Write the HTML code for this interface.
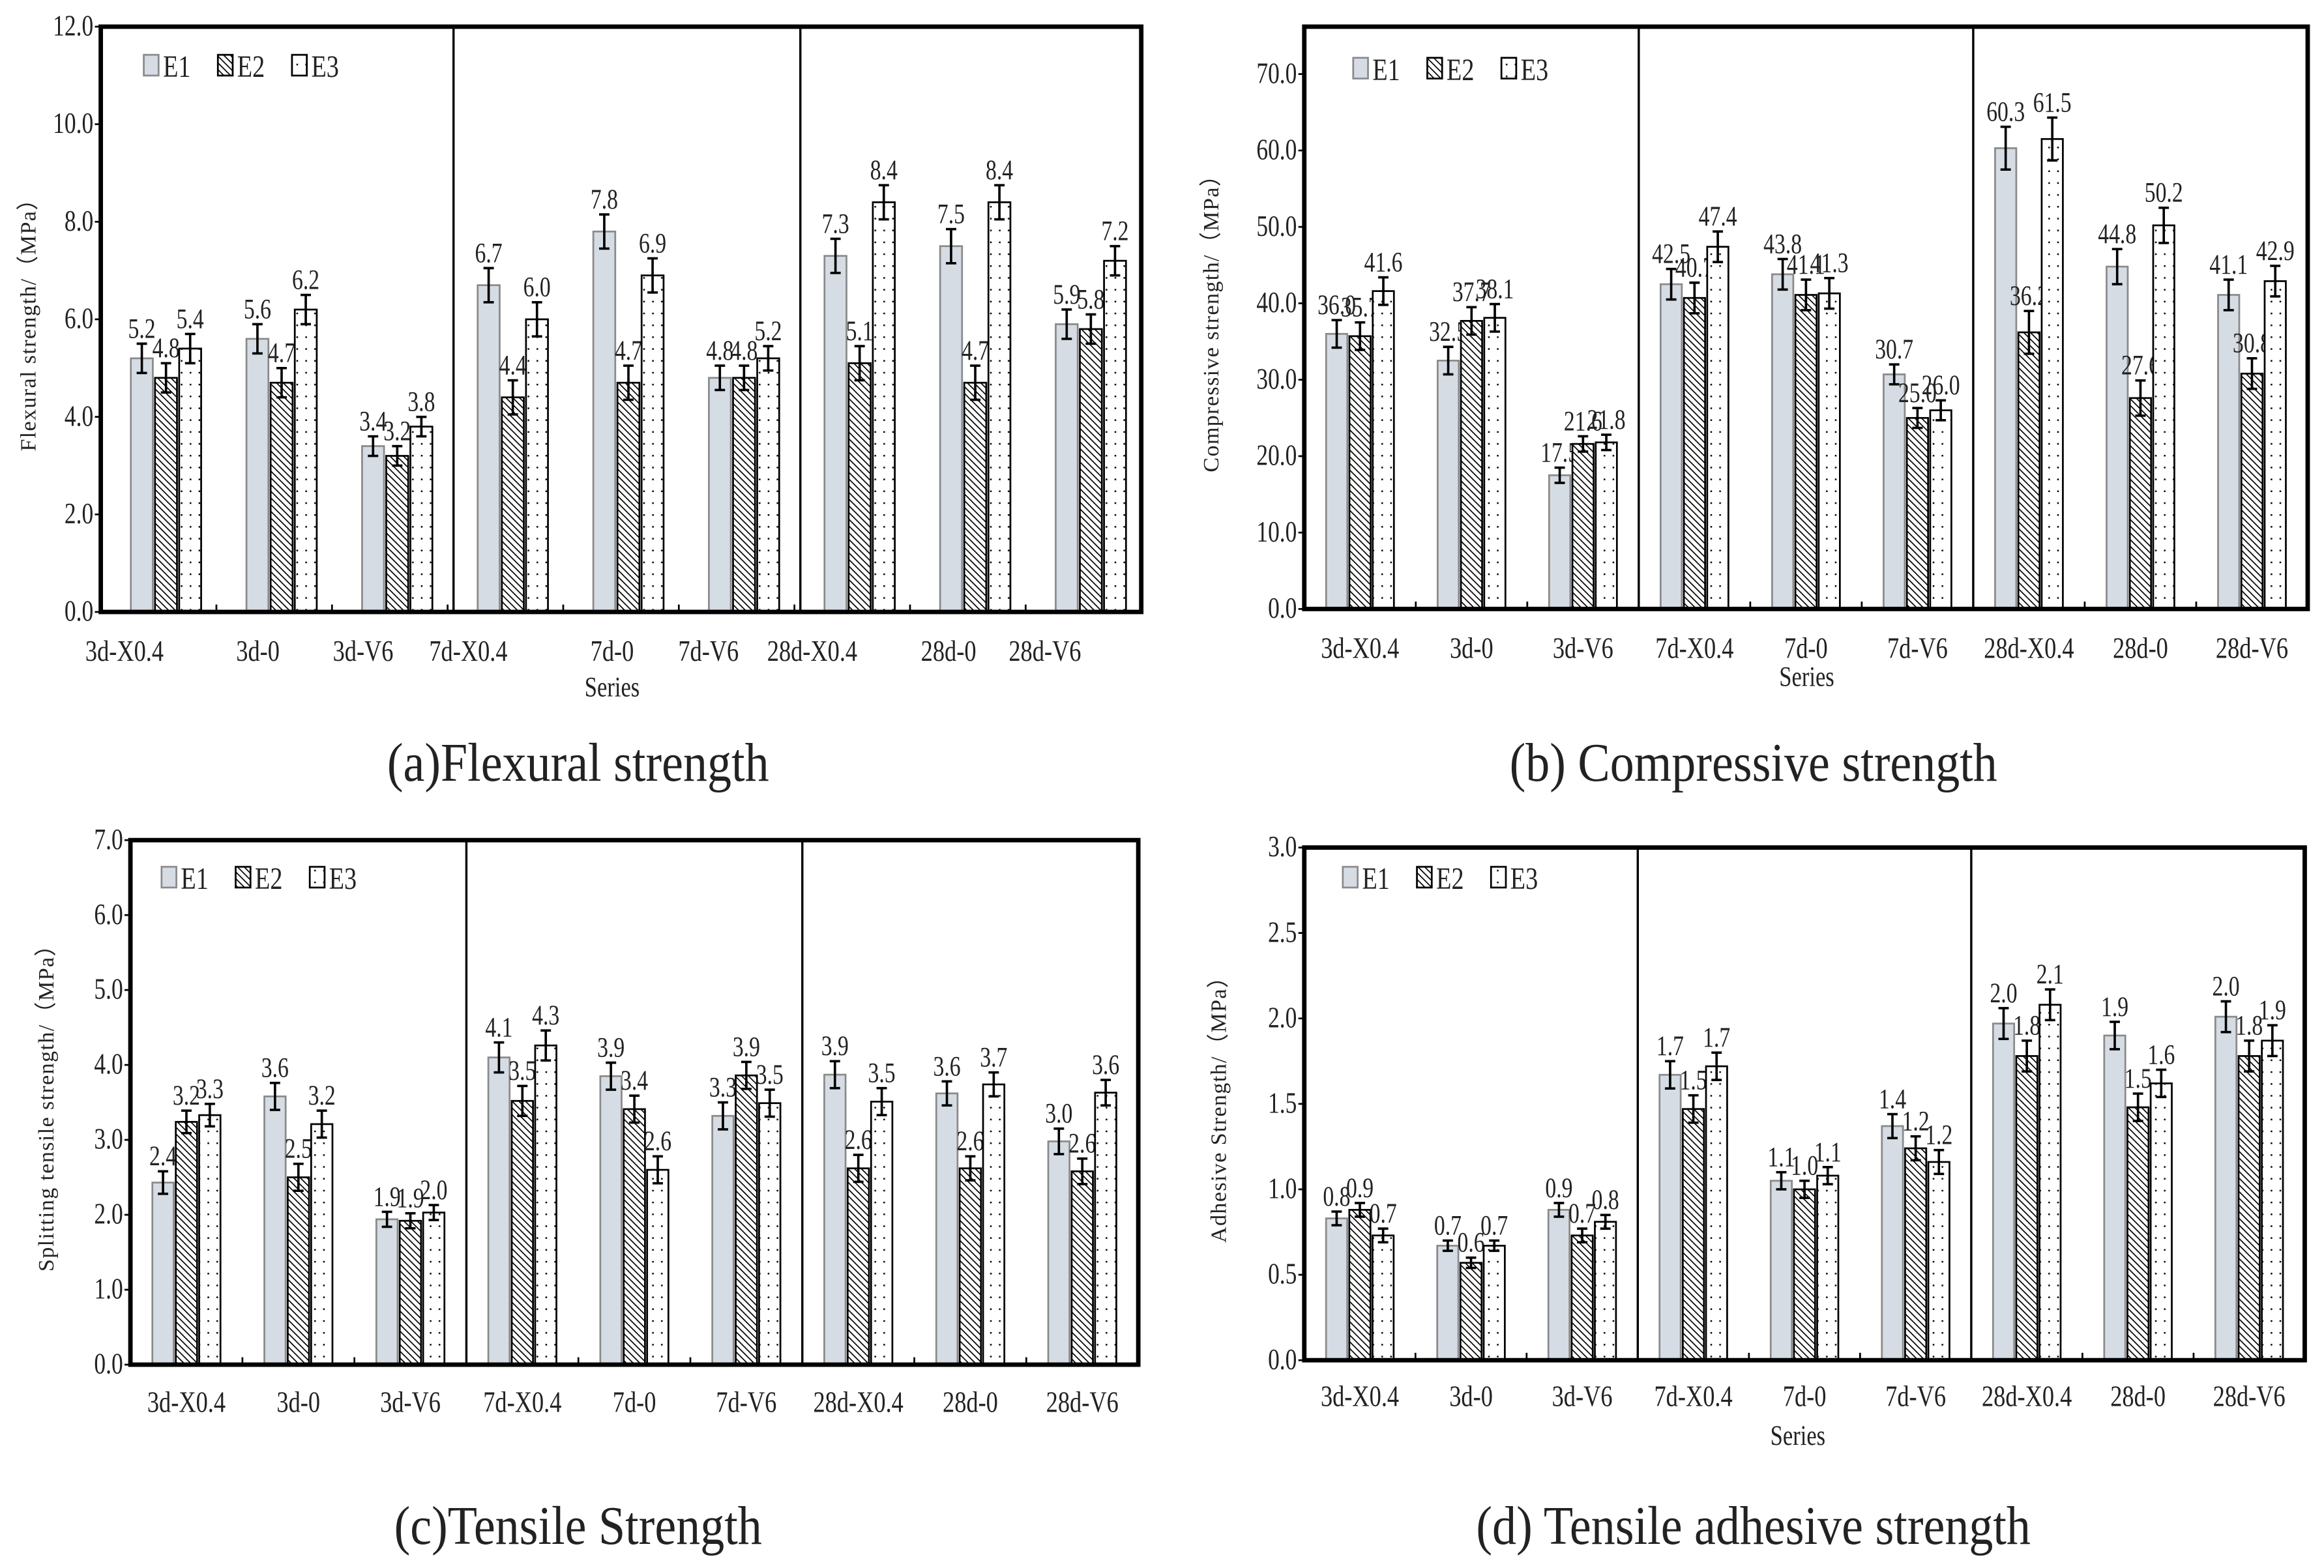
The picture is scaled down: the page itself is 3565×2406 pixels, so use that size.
<!DOCTYPE html>
<html><head><meta charset="utf-8"><style>
html,body{margin:0;padding:0;background:#fff;}
svg{display:block;font-family:"Liberation Serif",serif;}
</style></head><body>
<svg id="fig" width="3565" height="2406" viewBox="0 0 3565 2406" xmlns="http://www.w3.org/2000/svg">
<defs>
<pattern id="hatch" patternUnits="userSpaceOnUse" width="3.2" height="3.2" patternTransform="rotate(-45)">
<rect width="3.2" height="3.2" fill="#fff"/><line x1="0" y1="0" x2="0" y2="3.2" stroke="#000" stroke-width="1.5"/></pattern>
<pattern id="dots" patternUnits="userSpaceOnUse" width="6" height="8">
<rect width="6" height="8" fill="#fff"/><rect x="2" y="3" width="1.1" height="1.1" fill="#000"/></pattern>
</defs>
<g id="root" transform="scale(2.2736)"></g>
</svg>
<script>
const categories = ["3d-X0.4","3d-0","3d-V6","7d-X0.4","7d-0","7d-V6","28d-X0.4","28d-0","28d-V6"];
const seriesNames = ["E1","E2","E3"];
// (a) Flexural
const flexE1 = [5.2,5.6,3.4,6.7,7.8,4.8,7.3,7.5,5.9];
const flexE2 = [4.8,4.7,3.2,4.4,4.7,4.8,5.1,4.7,5.8];
const flexE3 = [5.4,6.2,3.8,6.0,6.9,5.2,8.4,8.4,7.2];
const flexErr = [0.3,0.3,0.2,0.35,0.35,0.25,0.35,0.35,0.3];
const flexTicks = [0,2,4,6,8,10,12];
// (b) Compressive
const compE1 = [36.0,32.5,17.5,42.5,43.8,30.7,60.3,44.8,41.1];
const compE2 = [35.7,37.7,21.6,40.7,41.1,25.0,36.2,27.6,30.8];
const compE3 = [41.6,38.1,21.8,47.4,41.3,26.0,61.5,50.2,42.9];
const compErr = [1.8,1.8,1.0,2.0,2.0,1.3,2.8,2.3,2.0];
const compTicks = [0,10,20,30,40,50,60,70];
// (c) Tensile
const tensE1 = [2.43,3.58,1.94,4.1,3.85,3.32,3.87,3.62,2.98];
const tensE2 = [3.24,2.5,1.92,3.52,3.41,3.86,2.62,2.62,2.58];
const tensE3 = [3.33,3.21,2.03,4.26,2.6,3.49,3.51,3.74,3.63];
const tensErr = [0.15,0.18,0.1,0.2,0.18,0.18,0.18,0.16,0.17];
const tensTicks = [0,1,2,3,4,5,6,7];
// (d) Adhesive
const adhE1 = [0.83,0.67,0.88,1.67,1.05,1.37,1.97,1.90,2.01];
const adhE2 = [0.88,0.57,0.73,1.47,1.00,1.24,1.78,1.48,1.78];
const adhE3 = [0.73,0.67,0.81,1.72,1.08,1.16,2.08,1.62,1.87];
const adhErr = [0.04,0.03,0.04,0.08,0.05,0.07,0.09,0.08,0.09];
const adhTicks = [0,0.5,1.0,1.5,2.0,2.5,3.0];

const NS="http://www.w3.org/2000/svg";
const root=document.getElementById('root');
function mk(tag,attrs,parent){const e=document.createElementNS(NS,tag);for(const k in attrs)e.setAttribute(k,attrs[k]);(parent||root).appendChild(e);return e;}
function txt(x,y,s,size,anchor,parent,sx){const t=mk('text',{transform:`translate(${x},${y}) scale(${sx||0.85},1)`,'font-size':size,'text-anchor':anchor||'middle',fill:'#222'},parent);t.textContent=s;return t;}

function chart(cfg){
  const g=mk('g',{});
  
  
  const {L,R,T,B,max}=cfg;
  const yS=v=>B-(v/max)*(B-T);
  const cw=(R-L)/categories.length;
  const xC=i=>L+cw*(i+0.5);
  cfg.ticks.forEach(v=>{
    const y=yS(v);
    const l=mk('line',{x1:L-4,x2:L,y1:y,y2:y,stroke:'#000','stroke-width':1.2},g);
    
    
    const t=txt(L-5,y+6,v.toFixed(1),20,'end',g,0.78);
    
    
  });
  const fills=['#d6dce4','url(#hatch)','url(#dots)'];
  const strokes=['#8a8a8a','#000','#000'];
  const bw=cw*0.19;
  cfg.series.forEach((arr,s)=>{
    arr.forEach((v,i)=>{
      const cx=xC(i)+cfg.shift+(s-1)*bw*1.1;
      const y=yS(v);
      const r=mk('rect',{x:cx-bw/2,y:y,width:bw,height:B-y,fill:fills[s],stroke:strokes[s],'stroke-width':1.2},g);
      
      
      const e=cfg.err[i];
      const eb=mk('path',{d:`M${cx},${yS(v+e)}V${yS(v-e)}M${cx-3.5},${yS(v+e)}H${cx+3.5}M${cx-3.5},${yS(v-e)}H${cx+3.5}`,stroke:'#000','stroke-width':1.6,fill:'none'},g);
      
      
      const t=txt(cx,yS(v+e)-4,v.toFixed(1),19,'middle',g,0.78);
      
      
    });
  });
  for(let i=1;i<categories.length;i++){
    const x=L+cw*i;
    mk('line',{x1:x,x2:x,y1:B,y2:B-5,stroke:'#000','stroke-width':1.2},g);
  }
  [3,6].forEach(i=>{const x=L+cw*i+cfg.divShift;const d=mk('line',{x1:x,x2:x,y1:T,y2:B,stroke:'#000','stroke-width':1.5},g);
    
    });
  const f=mk('rect',{x:L,y:T,width:R-L,height:B-T,fill:'none',stroke:'#000','stroke-width':3},g);
  
  
  categories.forEach((c,i)=>{
    const x=cfg.labelX?cfg.labelX[i]:xC(i);
    const t=txt(x,cfg.labY,c,20,'middle',g,0.8);
    
    
  });
  seriesNames.forEach((n,s)=>{
    const lx=cfg.legX+s*50, ly=cfg.legY;
    const r=mk('rect',{x:lx,y:ly-14,width:10,height:14,fill:fills[s],stroke:strokes[s],'stroke-width':1.2},g);
    
    
    const t=txt(lx+13,ly+1,n,21,'start',g,0.8);
    
    
  });
  const yt=mk('text',{transform:`translate(${cfg.ytX},${(T+B)/2}) rotate(-90)`,'font-size':15,'text-anchor':'middle',fill:'#222','letter-spacing':0.6},g);
  yt.textContent=cfg.ytitle;
  
  
  if(cfg.series_t){const st=txt(cfg.series_t[0],cfg.series_t[1],'Series',19,'middle',g,0.8);
    
    }
  const ct=txt(cfg.capt[0],cfg.capt[1],cfg.caption,37,'middle',g,0.88);
  
  
}

chart({name:'flexural-chart',L:68,R:770,T:18,B:413,max:12,ticks:flexTicks,series:[flexE1,flexE2,flexE3],err:flexErr,shift:5,divShift:4,
  labelX:[84,174,245,316,413,478,548,640,705],labY:446,legX:97,legY:51,ytX:24,ytitle:'Flexural strength/（MPa）',series_t:[413,470],capt:[390,527],caption:'(a)Flexural strength'});
chart({name:'compressive-chart',L:880,R:1557,T:18,B:411,max:76.2,ticks:compTicks,series:[compE1,compE2,compE3],err:compErr,shift:0,divShift:0,
  labY:444,legX:913,legY:53,ytX:822,ytitle:'Compressive strength/（MPa）',series_t:[1219,463],capt:[1183,527],caption:'(b) Compressive strength'});
chart({name:'tensile-chart',L:88,R:768,T:567,B:921,max:7,ticks:tensTicks,series:[tensE1,tensE2,tensE3],err:tensErr,shift:0,divShift:0,
  labY:953,legX:109,legY:599,ytX:36,ytitle:'Splitting tensile strength/（MPa）',capt:[390,1042],caption:'(c)Tensile Strength'});
chart({name:'adhesive-chart',L:880,R:1555,T:572,B:918,max:3,ticks:adhTicks,series:[adhE1,adhE2,adhE3],err:adhErr,shift:0,divShift:0,
  labY:949,legX:906,legY:599,ytX:827,ytitle:'Adhesive Strength/（MPa）',series_t:[1213,975],capt:[1183,1042],caption:'(d) Tensile adhesive strength'});
</script>
</body></html>
